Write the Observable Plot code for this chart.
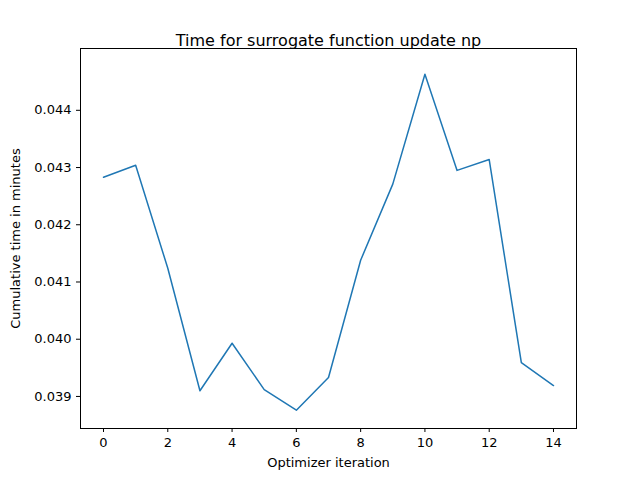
<!DOCTYPE html>
<html>
<head>
<meta charset="utf-8">
<script src="https://cdn.jsdelivr.net/npm/d3@7"></script>
<script src="https://cdn.jsdelivr.net/npm/@observablehq/plot@0.6"></script>
<style>
  body { margin: 0; background: #fff; }
  svg { font-family: "DejaVu Sans", sans-serif; }
</style>
</head>
<body>
<div id="chart"></div>
<script>
const iterations = [0, 1, 2, 3, 4, 5, 6, 7, 8, 9, 10, 11, 12, 13, 14];
const times = [0.04283, 0.04304, 0.04124, 0.03910, 0.03993, 0.03912, 0.03876, 0.03933,
               0.04138, 0.04271, 0.04463, 0.04295, 0.04314, 0.03959, 0.03919];
const xTicks = [0, 2, 4, 6, 8, 10, 12, 14];
const yTicks = [0.039, 0.040, 0.041, 0.042, 0.043, 0.044];

const data = iterations.map((it, i) => ({ it, t: times[i] }));

const plot = Plot.plot({
  width: 640,
  height: 480,
  marginLeft: 80,
  marginRight: 64,
  marginTop: 48,
  marginBottom: 52,
  style: { fontSize: "13px", fontFamily: "DejaVu Sans, sans-serif", color: "#000" },
  x: { domain: [-0.716, 14.716] },
  y: { domain: [0.03844, 0.04508] },
  marks: [
    Plot.frame({ stroke: "#000" }),
    Plot.axisX({ ticks: xTicks, tickSize: 4, label: "Optimizer iteration", labelAnchor: "center", labelOffset: 38, labelArrow: "none" }),
    Plot.axisY({ ticks: yTicks, tickSize: 4, tickFormat: d3.format(".3f"), label: "Cumulative time in minutes", labelAnchor: "center", labelOffset: 70, labelArrow: "none" }),
    Plot.line(data, { x: "it", y: "t", stroke: "#1f77b4", strokeWidth: 1.5 }),
    Plot.text(["Time for surrogate function update np"], { frameAnchor: "top", dy: -14, fontSize: 16, fill: "#000" })
  ]
});
document.getElementById("chart").appendChild(plot);
</script>
</body>
</html>
